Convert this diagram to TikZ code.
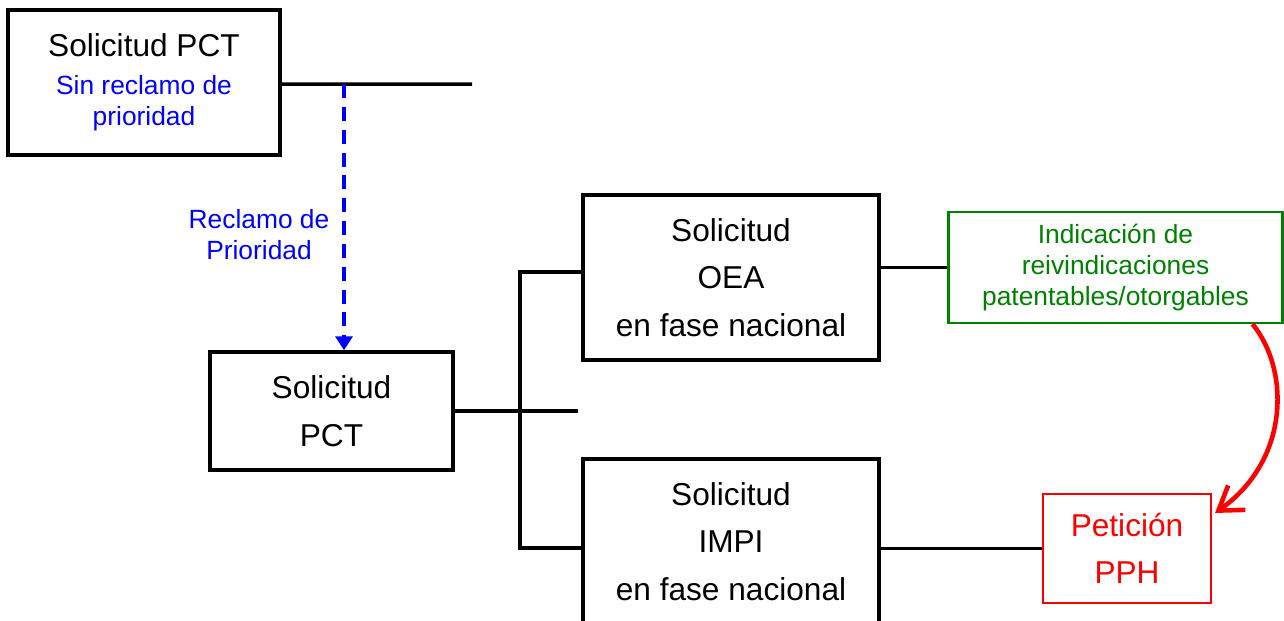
\documentclass[tikz,border=0pt]{standalone}
\usepackage{fontspec}
\setmainfont{Liberation Sans}
\usetikzlibrary{arrows.meta}
\definecolor{okgreen}{RGB}{0,128,0}
\tikzset{
  box/.style={draw,line width=2pt,align=center,font=\fontsize{18}{27}\selectfont},
  bluetxt/.style={text=blue,align=center,font=\fontsize{15}{17.6}\selectfont},
  greenbox/.style={draw=okgreen,text=okgreen,line width=1.2pt,align=center,font=\fontsize{15}{17.6}\selectfont},
  redbox/.style={draw=red,text=red,line width=1.2pt,align=center,font=\fontsize{18}{26.7}\selectfont},
  conn/.style={line width=2pt},
  bluedash/.style={blue,line width=2.2pt,dash pattern=on 8pt off 5pt,-{Triangle[length=0.28cm,width=0.34cm]}},
  curvearrow/.style={red,line width=2.6pt,-{Straight Barb[length=0.45cm,width=0.6cm]}}
}
\begin{document}
\begin{tikzpicture}[x=0.02cm,y=-0.02cm]
\useasboundingbox (0,0) rectangle (1284,620);
\clip (0,0) rectangle (1284,620);
\node (pctA) [box,minimum width=5.44cm,minimum height=2.9cm] at (144,82.5) {};
\node (pctAtitle) [font=\fontsize{18}{27}\selectfont] at (144,45) {Solicitud PCT};
\node (pctAnote) [bluetxt] at (144,103.5) {Sin reclamo de\\prioridad};
\node (reclamo) [bluetxt] at (259,235) {Reclamo de\\Prioridad};
\node (pctB) [box,minimum width=4.86cm,minimum height=2.36cm] at (331.5,411) {Solicitud\\PCT};
\node (oea) [box,minimum width=5.92cm,minimum height=3.3cm] at (731,277.5) {Solicitud\\OEA\\en fase nacional};
\node (impi) [box,minimum width=5.92cm,minimum height=3.3cm] at (731,541.5) {Solicitud\\IMPI\\en fase nacional};
\node (indic) [greenbox,minimum width=6.68cm,minimum height=2.22cm] at (1115.5,267.5) {Indicación de\\reivindicaciones\\patentables/otorgables};
\node (pph) [redbox,minimum width=3.36cm,minimum height=2.18cm] at (1127,548.5) {Petición\\PPH};
\coordinate (aEnd) at (472,84);
\coordinate (dashTop) at (344,84);
\coordinate (bEnd) at (578,411);
\coordinate (fork) at (520,411);

\draw[conn] ([yshift=-0.03cm]pctA.east) -- (aEnd);
\draw[bluedash] (dashTop) -- (dashTop |- pctB.north);
\draw[conn] (pctB.east) -- (bEnd);
\draw[conn] ([yshift=0.11cm]oea.west) -| (fork) |- ([yshift=-0.13cm]impi.west);
\draw[conn] (indic.west -| oea.east) -- (indic.west);
\draw[conn] (pph.west -| impi.east) -- (pph.west);
\draw[curvearrow] ([xshift=-0.62cm]indic.south east) .. controls (1290,370) and (1290,460) .. ([shift={(0.06cm,-0.4cm)}]pph.north east);
\end{tikzpicture}
\end{document}
